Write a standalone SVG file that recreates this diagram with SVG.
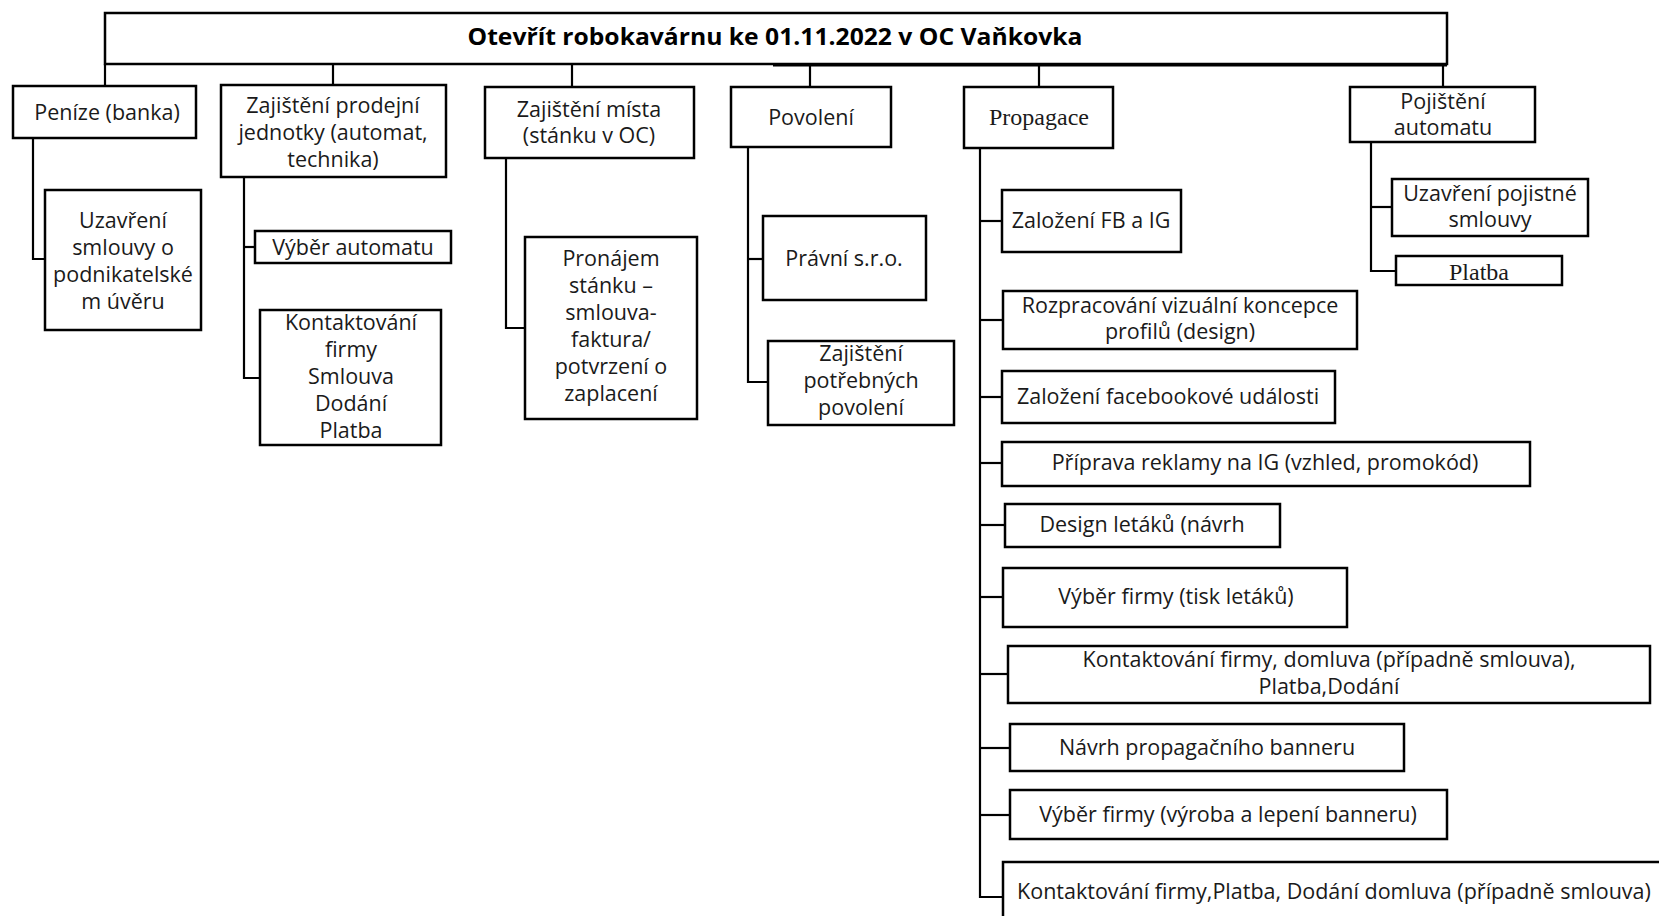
<svg xmlns="http://www.w3.org/2000/svg" width="1659" height="916" viewBox="0 0 1659 916">
  <style>
    .box { fill: #ffffff; stroke: #000000; stroke-width: 2.5; }
    .wire { fill: none; stroke: #000000; stroke-width: 2.2; }
    .t { font-family: "Open Sans", "Noto Sans", "Liberation Sans", sans-serif; font-size: 21.5px; fill: #1a1a1a; text-anchor: middle; }
    .s { font-family: "Liberation Serif", "DejaVu Serif", serif; font-size: 24px; fill: #1a1a1a; text-anchor: middle; }
    .title { font-family: "Open Sans", "Noto Sans", "Liberation Sans", sans-serif; font-size: 24px; font-weight: bold; fill: #000000; text-anchor: middle; }
  </style>

  <!-- connectors: bus under the goal box, drops to the branches, side rails to the tasks -->
  <g id="connectors">
    <line class="wire" x1="773" y1="65.5" x2="1447" y2="65.5" stroke-width="3.5"/>
    <line class="wire" x1="105" y1="64" x2="105" y2="86"/>
    <line class="wire" x1="333" y1="64" x2="333" y2="85"/>
    <line class="wire" x1="572" y1="64" x2="572" y2="87"/>
    <line class="wire" x1="810" y1="64" x2="810" y2="87"/>
    <line class="wire" x1="1039" y1="64" x2="1039" y2="87"/>
    <line class="wire" x1="1443" y1="64" x2="1443" y2="87"/>

    <!-- Peníze -->
    <polyline class="wire" points="33,138 33,259 45,259"/>
    <!-- Zajištění prodejní jednotky -->
    <polyline class="wire" points="244,177 244,378 260,378"/>
    <line class="wire" x1="244" y1="247" x2="255" y2="247"/>
    <!-- Zajištění místa -->
    <polyline class="wire" points="506,158 506,328 525,328"/>
    <!-- Povolení -->
    <polyline class="wire" points="748,147 748,382 768,382"/>
    <line class="wire" x1="748" y1="259" x2="763" y2="259"/>
    <!-- Propagace -->
    <polyline class="wire" points="980,148 980,897 1003,897"/>
    <line class="wire" x1="980" y1="221" x2="1002" y2="221"/>
    <line class="wire" x1="980" y1="320" x2="1003" y2="320"/>
    <line class="wire" x1="980" y1="397" x2="1002" y2="397"/>
    <line class="wire" x1="980" y1="463" x2="1002" y2="463"/>
    <line class="wire" x1="980" y1="525" x2="1005" y2="525"/>
    <line class="wire" x1="980" y1="597" x2="1003" y2="597"/>
    <line class="wire" x1="980" y1="674" x2="1008" y2="674"/>
    <line class="wire" x1="980" y1="748" x2="1010" y2="748"/>
    <line class="wire" x1="980" y1="815" x2="1010" y2="815"/>
    <!-- Pojištění automatu -->
    <polyline class="wire" points="1371,142 1371,271 1396,271"/>
    <line class="wire" x1="1371" y1="207" x2="1392" y2="207"/>
  </g>

  <g id="goal">
    <rect class="box" x="105" y="13" width="1342" height="51"/>
    <text class="title" x="775" y="45" textLength="615" lengthAdjust="spacingAndGlyphs">Otevřít robokavárnu ke 01.11.2022 v OC Vaňkovka</text>
  </g>

  <g id="penize">
    <rect class="box" x="13" y="86" width="183" height="52"/>
    <text class="t" x="107" y="120">Peníze (banka)</text>
  </g>
  <g id="penize-uver">
    <rect class="box" x="45" y="190" width="156" height="140"/>
    <text class="t" x="123" y="228">Uzavření</text>
    <text class="t" x="123" y="255">smlouvy o</text>
    <text class="t" x="123" y="282">podnikatelské</text>
    <text class="t" x="123" y="309">m úvěru</text>
  </g>

  <g id="jednotka">
    <rect class="box" x="221" y="85" width="225" height="92"/>
    <text class="t" x="333" y="113">Zajištění prodejní</text>
    <text class="t" x="333" y="140">jednotky (automat,</text>
    <text class="t" x="333" y="167">technika)</text>
  </g>
  <g id="jednotka-vyber">
    <rect class="box" x="255" y="231" width="196" height="32"/>
    <text class="t" x="353" y="255">Výběr automatu</text>
  </g>
  <g id="jednotka-kontakt">
    <rect class="box" x="260" y="310" width="181" height="135"/>
    <text class="t" x="351" y="330">Kontaktování</text>
    <text class="t" x="351" y="357">firmy</text>
    <text class="t" x="351" y="384">Smlouva</text>
    <text class="t" x="351" y="411">Dodání</text>
    <text class="t" x="351" y="438">Platba</text>
  </g>

  <g id="misto">
    <rect class="box" x="485" y="87" width="209" height="71"/>
    <text class="t" x="589" y="117">Zajištění místa</text>
    <text class="t" x="589" y="143">(stánku v OC)</text>
  </g>
  <g id="misto-pronajem">
    <rect class="box" x="525" y="237" width="172" height="182"/>
    <text class="t" x="611" y="266">Pronájem</text>
    <text class="t" x="611" y="293">stánku –</text>
    <text class="t" x="611" y="320">smlouva-</text>
    <text class="t" x="611" y="347">faktura/</text>
    <text class="t" x="611" y="374">potvrzení o</text>
    <text class="t" x="611" y="401">zaplacení</text>
  </g>

  <g id="povoleni">
    <rect class="box" x="731" y="87" width="160" height="60"/>
    <text class="t" x="811" y="125">Povolení</text>
  </g>
  <g id="povoleni-pravni">
    <rect class="box" x="763" y="216" width="163" height="84"/>
    <text class="t" x="844" y="266">Právní s.r.o.</text>
  </g>
  <g id="povoleni-zajisteni">
    <rect class="box" x="768" y="341" width="186" height="84"/>
    <text class="t" x="861" y="361">Zajištění</text>
    <text class="t" x="861" y="388">potřebných</text>
    <text class="t" x="861" y="415">povolení</text>
  </g>

  <g id="propagace">
    <rect class="box" x="964" y="87" width="149" height="61"/>
    <text class="s" x="1039" y="125">Propagace</text>
  </g>
  <g id="propagace-fb-ig">
    <rect class="box" x="1002" y="190" width="179" height="62"/>
    <text class="t" x="1091" y="228">Založení FB a IG</text>
  </g>
  <g id="propagace-koncepce">
    <rect class="box" x="1003" y="291" width="354" height="58"/>
    <text class="t" x="1180" y="313">Rozpracování vizuální koncepce</text>
    <text class="t" x="1180" y="339">profilů (design)</text>
  </g>
  <g id="propagace-udalost">
    <rect class="box" x="1002" y="371" width="333" height="52"/>
    <text class="t" x="1168" y="404">Založení facebookové události</text>
  </g>
  <g id="propagace-reklama">
    <rect class="box" x="1002" y="442" width="528" height="44"/>
    <text class="t" x="1265" y="470">Příprava reklamy na IG (vzhled, promokód)</text>
  </g>
  <g id="propagace-letaky">
    <rect class="box" x="1005" y="504" width="275" height="43"/>
    <text class="t" x="1142" y="532">Design letáků (návrh</text>
  </g>
  <g id="propagace-tisk">
    <rect class="box" x="1003" y="568" width="344" height="59"/>
    <text class="t" x="1176" y="604">Výběr firmy (tisk letáků)</text>
  </g>
  <g id="propagace-tisk-kontakt">
    <rect class="box" x="1008" y="646" width="642" height="57"/>
    <text class="t" x="1329" y="667">Kontaktování firmy, domluva (případně smlouva),</text>
    <text class="t" x="1329" y="694">Platba,Dodání</text>
  </g>
  <g id="propagace-banner">
    <rect class="box" x="1010" y="724" width="394" height="47"/>
    <text class="t" x="1207" y="755">Návrh propagačního banneru</text>
  </g>
  <g id="propagace-vyroba">
    <rect class="box" x="1010" y="790" width="437" height="49"/>
    <text class="t" x="1228" y="822">Výběr firmy (výroba a lepení banneru)</text>
  </g>
  <g id="propagace-banner-kontakt">
    <rect class="box" x="1003" y="862" width="690" height="90"/>
    <text class="t" x="1334" y="899">Kontaktování firmy,Platba, Dodání domluva (případně smlouva)</text>
  </g>

  <g id="pojisteni">
    <rect class="box" x="1350" y="87" width="185" height="55"/>
    <text class="t" x="1443" y="109">Pojištění</text>
    <text class="t" x="1443" y="135">automatu</text>
  </g>
  <g id="pojisteni-smlouva">
    <rect class="box" x="1392" y="179" width="196" height="57"/>
    <text class="t" x="1490" y="201">Uzavření pojistné</text>
    <text class="t" x="1490" y="227">smlouvy</text>
  </g>
  <g id="pojisteni-platba">
    <rect class="box" x="1396" y="256" width="166" height="29"/>
    <text class="s" x="1479" y="280">Platba</text>
  </g>
</svg>
